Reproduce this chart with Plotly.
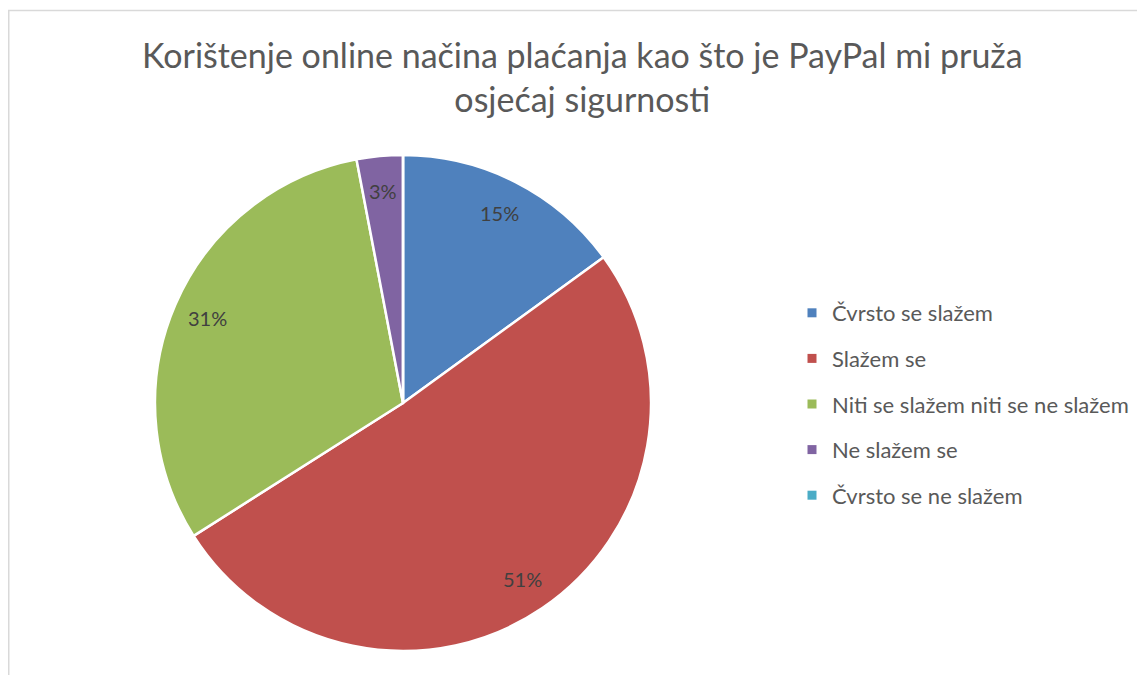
import math
import plotly.graph_objects as go

categories = ["Čvrsto se slažem", "Slažem se", "Niti se slažem niti se ne slažem",
              "Ne slažem se", "Čvrsto se ne slažem"]
values = [15, 51, 31, 3, 0]
colors = ["#4F81BD", "#C0504D", "#9BBB59", "#8064A2", "#4BACC6"]
title_text = "Korištenje online načina plaćanja kao što je PayPal mi pruža<br>osjećaj sigurnosti"

W, H = 1145, 675
cx_px, cy_px, r_px = 395, 395, 248
FONT = "Lato, 'Open Sans', sans-serif"

fig = go.Figure()

fig.add_trace(go.Pie(
    labels=categories, values=values, sort=False, direction="clockwise",
    rotation=0, marker=dict(colors=colors, line=dict(color="white", width=2.5)),
    textinfo="none", hoverinfo="label+percent", showlegend=False,
    domain=dict(x=[(cx_px - r_px) / W, (cx_px + r_px) / W],
                y=[1 - (cy_px + r_px) / H, 1 - (cy_px - r_px) / H]),
))

# Legend entries
for i, (c, col) in enumerate(zip(categories, colors)):
    fig.add_trace(go.Scatter(
        x=[None], y=[None], mode="markers", name=c, legendgroup=f"g{i}",
        marker=dict(symbol="square", size=9, color=col), showlegend=True,
    ))

# Percentage labels positioned from the data
total = sum(values)
cum = 0.0
annotations = []
for v in values:
    if v > 0:
        mid = (cum + v / 2) / total * 2 * math.pi
        x_px = cx_px + 0.86 * r_px * math.sin(mid)
        y_px = cy_px - 0.86 * r_px * math.cos(mid)
        annotations.append(dict(
            x=x_px / W, y=1 - y_px / H, xref="paper", yref="paper",
            text=f"{round(v / total * 100)}%", showarrow=False,
            font=dict(family=FONT, size=20, color="#404040"),
            xanchor="center", yanchor="middle"))
    cum += v

annotations.append(dict(
    x=575 / W, y=1 - 68 / H, xref="paper", yref="paper", text=title_text,
    showarrow=False, font=dict(family=FONT, size=34, color="#595959"),
    xanchor="center", yanchor="middle", align="center"))

fig.update_layout(
    width=W, height=H, margin=dict(l=0, r=0, t=0, b=0),
    paper_bgcolor="white", plot_bgcolor="white",
    xaxis=dict(visible=False), yaxis=dict(visible=False),
    annotations=annotations,
    legend=dict(x=784 / W, y=1 - 284 / H, xanchor="left", yanchor="top",
                tracegroupgap=14, font=dict(family=FONT, size=22, color="#595959"),
                bgcolor="rgba(0,0,0,0)"),
    shapes=[dict(type="rect", xref="paper", yref="paper",
                 x0=0.75 / W, x1=1.05, y0=-0.05, y1=1 - 2.5 / H,
                 line=dict(color="#D9D9D9", width=1.5), fillcolor="rgba(0,0,0,0)")],
)

fig.write_html("out.html")
